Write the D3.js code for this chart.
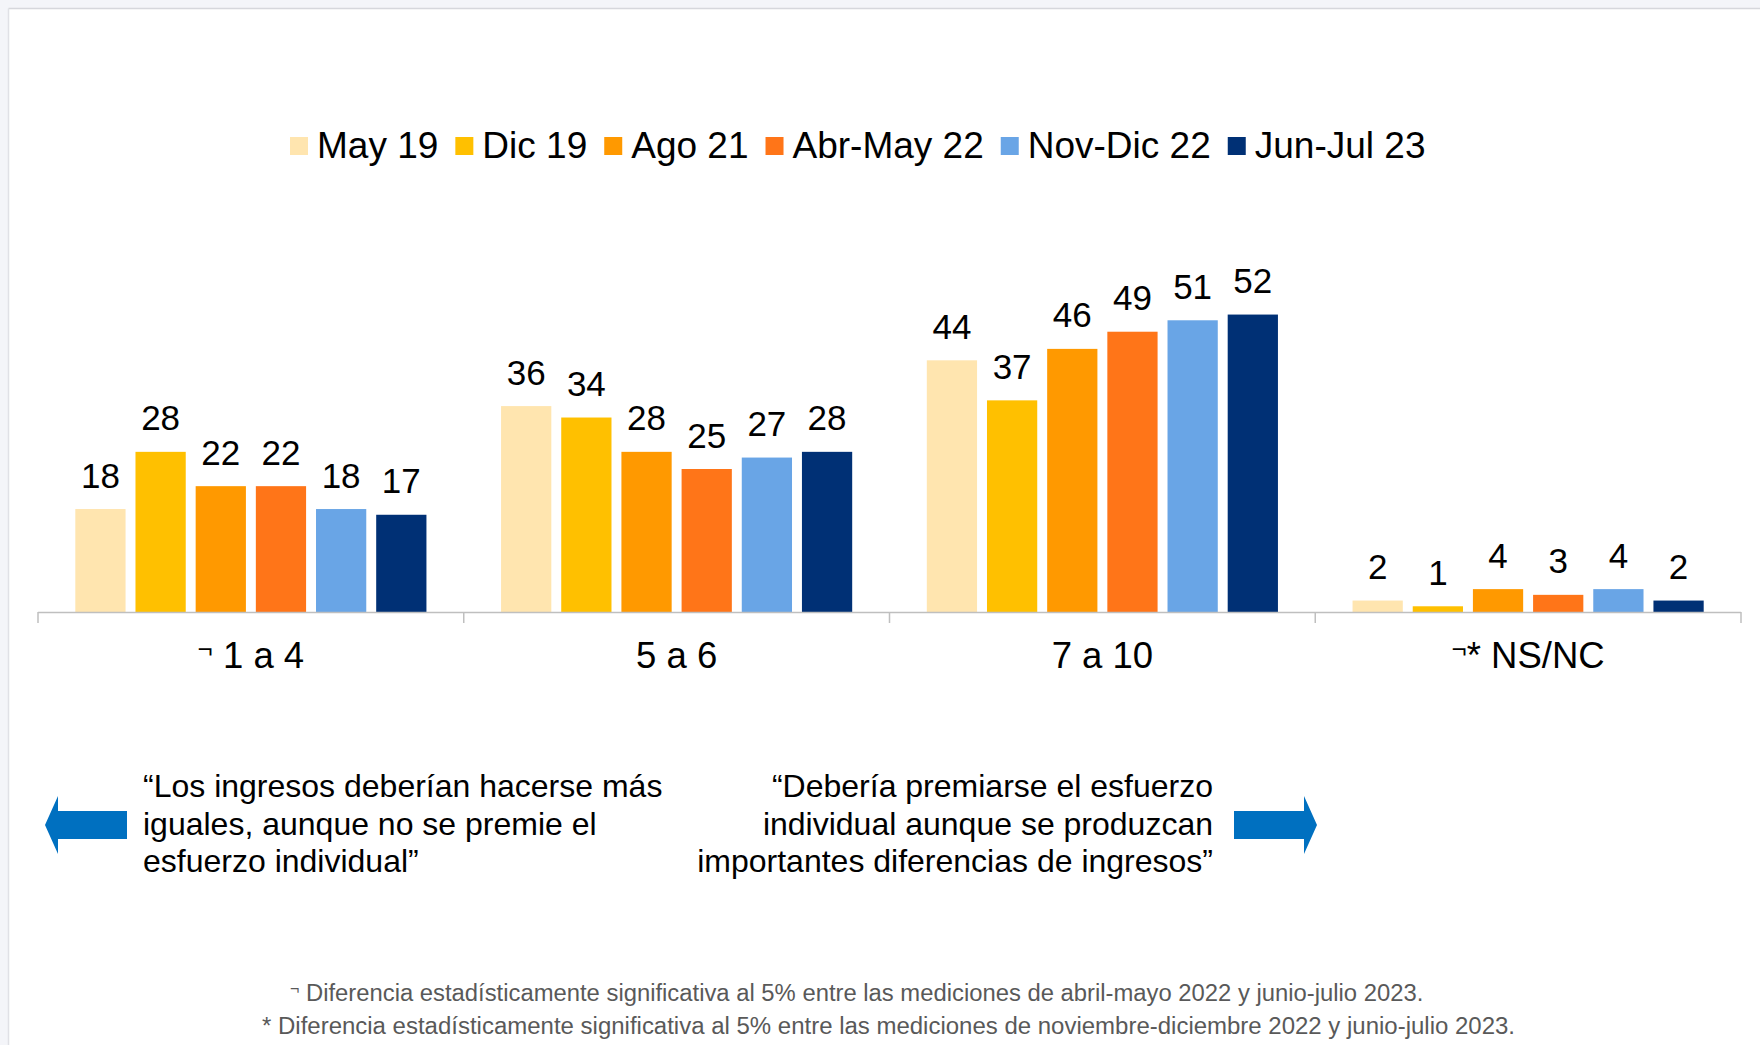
<!DOCTYPE html>
<html>
<head>
<meta charset="utf-8">
<script src="https://cdn.jsdelivr.net/npm/d3@7"></script>
<style>
  html, body { margin: 0; padding: 0; background: #f4f5f9; }
  svg { display: block; }
  text { font-family: "Liberation Sans", Arial, Helvetica, sans-serif; }
</style>
</head>
<body>
<svg id="chart" width="1760" height="1045"></svg>
<script>
// ---- Data ----
const categories = ["1 a 4", "5 a 6", "7 a 10", "NS/NC"];
const categorySupMarks = ["¬", "", "", "¬"];
const categoryStarMarks = ["", "", "", "*"];
const seriesNames = ["May 19", "Dic 19", "Ago 21", "Abr-May 22", "Nov-Dic 22", "Jun-Jul 23"];
const seriesColors = ["#FFE5AF", "#FFC000", "#FF9900", "#FF7518", "#69A5E6", "#003075"];
const valuesMay19    = [18, 36, 44, 2];
const valuesDic19    = [28, 34, 37, 1];
const valuesAgo21    = [22, 28, 46, 4];
const valuesAbrMay22 = [22, 25, 49, 3];
const valuesNovDic22 = [18, 27, 51, 4];
const valuesJunJul23 = [17, 28, 52, 2];
const seriesValues = [valuesMay19, valuesDic19, valuesAgo21, valuesAbrMay22, valuesNovDic22, valuesJunJul23];
const leftQuote = ["“Los ingresos deberían hacerse más", "iguales, aunque no se premie el", "esfuerzo individual”"];
const rightQuote = ["“Debería premiarse el esfuerzo", "individual aunque se produzcan", "importantes diferencias de ingresos”"];
const footnote1 = "Diferencia estadísticamente significativa al 5% entre las mediciones de abril-mayo 2022 y junio-julio 2023.";
const footnote2 = "* Diferencia estadísticamente significativa al 5% entre las mediciones de noviembre-diciembre 2022 y junio-julio 2023.";

const svg = d3.select("#chart");
const W = 1760, H = 1045;

// panel
svg.append("rect").attr("x", 0).attr("y", 0).attr("width", W).attr("height", H).attr("fill", "#f4f5f9");
svg.append("rect").attr("x", 9).attr("y", 9).attr("width", W - 9).attr("height", H - 9).attr("fill", "#ffffff");
svg.append("line").attr("x1", 8.5).attr("x2", W).attr("y1", 8.5).attr("y2", 8.5).attr("stroke", "#d6d7dc").attr("stroke-width", 1.5);
svg.append("line").attr("x1", 8.5).attr("x2", 8.5).attr("y1", 8.5).attr("y2", H).attr("stroke", "#e0e1e6").attr("stroke-width", 1.5);

// scales
const axisLeft = 38, axisRight = 1741, baseY = 612;
const x0 = d3.scaleBand().domain(categories).range([axisLeft, axisRight]).paddingInner(0).paddingOuter(0);
const x1 = d3.scaleBand().domain(seriesNames).range([0, x0.bandwidth()]).paddingInner(0.165).paddingOuter(0.62);
const y = d3.scaleLinear().domain([0, 100]).range([baseY, baseY - 572]);

// bars
const groups = svg.append("g").selectAll("g").data(categories).join("g")
  .attr("transform", d => `translate(${x0(d)},0)`);

groups.each(function(cat, ci) {
  const g = d3.select(this);
  const data = seriesNames.map((s, si) => ({ s, v: seriesValues[si][ci], c: seriesColors[si] }));
  g.selectAll("rect").data(data).join("rect")
    .attr("x", d => x1(d.s))
    .attr("y", d => y(d.v))
    .attr("width", x1.bandwidth())
    .attr("height", d => baseY - y(d.v))
    .attr("fill", d => d.c);
  g.selectAll("text.val").data(data).join("text")
    .attr("class", "val")
    .attr("x", d => x1(d.s) + x1.bandwidth() / 2)
    .attr("y", d => y(d.v) - 21.5)
    .attr("text-anchor", "middle")
    .attr("font-size", 35)
    .attr("fill", "#000")
    .text(d => d.v);
});

// axis
const axisG = svg.append("g");
axisG.append("line").attr("x1", axisLeft).attr("x2", axisRight).attr("y1", baseY + 0.5).attr("y2", baseY + 0.5)
  .attr("stroke", "#BFBFBF").attr("stroke-width", 1.5);
const tickXs = categories.map(c => x0(c)).concat([axisRight]);
axisG.selectAll("line.tick").data(tickXs).join("line").attr("class", "tick")
  .attr("x1", d => d).attr("x2", d => d).attr("y1", baseY).attr("y2", baseY + 11)
  .attr("stroke", "#BFBFBF").attr("stroke-width", 1.5);

// category labels
categories.forEach((c, i) => {
  const t = svg.append("text")
    .attr("x", x0(c) + x0.bandwidth() / 2)
    .attr("y", 668)
    .attr("text-anchor", "middle")
    .attr("font-size", 36.5)
    .attr("fill", "#000");
  if (categorySupMarks[i]) {
    t.append("tspan").attr("font-size", 26).attr("dy", -10).text(categorySupMarks[i]);
    t.append("tspan").attr("dy", 10).text(categoryStarMarks[i] + " " + c);
  } else {
    t.text(c);
  }
});

// legend
const legend = svg.append("g");
let lx = 290;
seriesNames.forEach((s, i) => {
  legend.append("rect").attr("x", lx).attr("y", 137).attr("width", 18).attr("height", 18).attr("fill", seriesColors[i]);
  const tt = legend.append("text").attr("x", lx + 27).attr("y", 158).attr("font-size", 37).attr("fill", "#000").text(s);
  const w = tt.node().getComputedTextLength();
  lx += 27 + w + 17;
});

// arrows
const arrowColor = "#0070C0";
const ay = 825;
svg.append("path")
  .attr("d", `M45,${ay} L58,${ay - 29} L58,${ay - 14} L127,${ay - 14} L127,${ay + 14} L58,${ay + 14} L58,${ay + 29} Z`)
  .attr("fill", arrowColor);
svg.append("path")
  .attr("d", `M1317,${ay} L1304,${ay - 29} L1304,${ay - 14} L1234,${ay - 14} L1234,${ay + 14} L1304,${ay + 14} L1304,${ay + 29} Z`)
  .attr("fill", arrowColor);

// quotes
const qLines = [797, 835, 872];
leftQuote.forEach((l, i) => {
  svg.append("text").attr("x", 143).attr("y", qLines[i]).attr("font-size", 32).attr("fill", "#000").text(l);
});
rightQuote.forEach((l, i) => {
  svg.append("text").attr("x", 1213).attr("y", qLines[i]).attr("text-anchor", "end").attr("font-size", 32).attr("fill", "#000").text(l);
});

// footnotes
const f1 = svg.append("text").attr("x", 290).attr("y", 1001).attr("font-size", 23).attr("fill", "#595959");
f1.append("tspan").attr("font-size", 16).attr("dy", -7).text("¬");
f1.append("tspan").attr("dy", 7).attr("textLength", 1124).attr("lengthAdjust", "spacingAndGlyphs").text(" " + footnote1);
svg.append("text").attr("x", 262).attr("y", 1034).attr("font-size", 23).attr("fill", "#595959")
  .attr("textLength", 1253).attr("lengthAdjust", "spacingAndGlyphs").text(footnote2);
</script>
</body>
</html>
